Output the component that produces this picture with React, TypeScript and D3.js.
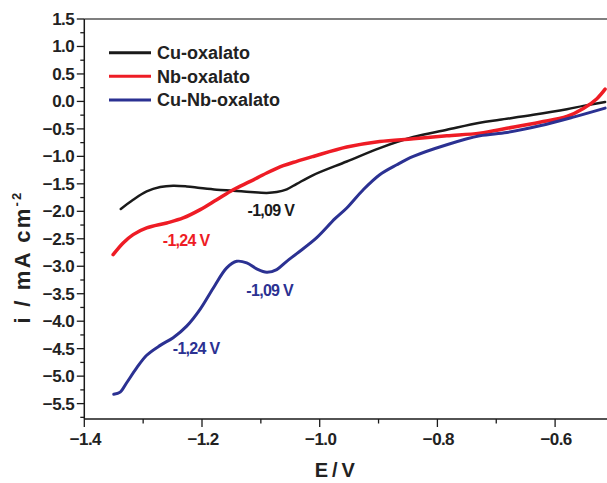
import React from "react";
import * as d3 from "d3";

const cuX = [-1.338, -1.317, -1.294, -1.271, -1.249, -1.226, -1.203, -1.175, -1.147, -1.118, -1.09, -1.073, -1.056, -1.039, -1.011, -0.954, -0.898, -0.841, -0.784, -0.728, -0.694, -0.637, -0.58, -0.552, -0.515];
const cuY = [-1.958, -1.789, -1.638, -1.558, -1.534, -1.547, -1.576, -1.607, -1.625, -1.649, -1.665, -1.65, -1.6, -1.5, -1.34, -1.093, -0.849, -0.649, -0.517, -0.39, -0.335, -0.244, -0.141, -0.081, -0.01];

const nbX = [-1.351, -1.334, -1.317, -1.294, -1.26, -1.232, -1.203, -1.175, -1.147, -1.118, -1.09, -1.062, -1.039, -1.011, -0.954, -0.898, -0.841, -0.784, -0.728, -0.682, -0.626, -0.58, -0.552, -0.529, -0.515];
const nbY = [-2.788, -2.575, -2.424, -2.303, -2.212, -2.121, -1.97, -1.789, -1.607, -1.456, -1.303, -1.17, -1.09, -1.002, -0.831, -0.729, -0.68, -0.626, -0.577, -0.49, -0.38, -0.275, -0.13, 0.05, 0.223];

const cunbX = [-1.35, -1.339, -1.328, -1.311, -1.294, -1.271, -1.249, -1.226, -1.203, -1.181, -1.158, -1.141, -1.124, -1.107, -1.09, -1.073, -1.056, -1.039, -1.005, -0.974, -0.954, -0.926, -0.898, -0.869, -0.841, -0.784, -0.728, -0.682, -0.626, -0.569, -0.515];
const cunbY = [-5.331, -5.29, -5.12, -4.85, -4.62, -4.44, -4.3, -4.09, -3.78, -3.40, -3.029, -2.91, -2.939, -3.048, -3.109, -3.06, -2.91, -2.77, -2.479, -2.134, -1.939, -1.607, -1.334, -1.153, -1.002, -0.789, -0.626, -0.566, -0.444, -0.286, -0.122];

const seriesNames = ["Cu-oxalato", "Nb-oxalato", "Cu-Nb-oxalato"];
const seriesColors = ["#1a1a1a", "#ee1c25", "#2b3192"];
const seriesWidths = [2.5, 3.5, 3];

const xTicks = [-1.4, -1.2, -1.0, -0.8, -0.6];
const xMinor = [-1.3, -1.1, -0.9, -0.7, -0.5];
const yTicks = [1.5, 1.0, 0.5, 0.0, -0.5, -1.0, -1.5, -2.0, -2.5, -3.0, -3.5, -4.0, -4.5, -5.0, -5.5];
const yMinor = [1.25, 0.75, 0.25, -0.25, -0.75, -1.25, -1.75, -2.25, -2.75, -3.25, -3.75, -4.25, -4.75, -5.25, -5.75];

const annotations = [
  { text: "-1,09 V", x: -1.083, y: -2.09, color: "#1a1a1a" },
  { text: "-1,24 V", x: -1.227, y: -2.635, color: "#ee1c25" },
  { text: "-1,09 V", x: -1.085, y: -3.545, color: "#2b3192" },
  { text: "-1,24 V", x: -1.21, y: -4.6, color: "#2b3192" },
];

const W = 607;
const H = 483;
const x = d3.scaleLinear().domain([-1.4, -0.5]).range([84.3, 84.3 + 0.9 * 588.5]);
const y = d3.scaleLinear().domain([-5.78, 1.5]).range([419, 19]);

const font = "'Liberation Sans', Arial, Helvetica, sans-serif";

export default function App() {
  const data = [
    d3.zip(cuX, cuY),
    d3.zip(nbX, nbY),
    d3.zip(cunbX, cunbY),
  ];
  const line = d3
    .line<number[]>()
    .x((d) => x(d[0]))
    .y((d) => y(d[1]))
    .curve(d3.curveCatmullRom.alpha(0.5));
  const fmt = d3.format(".1f");
  const [x0, x1] = x.range();
  const [yb, yt] = y.range();
  return (
    <svg
      width={W}
      height={H}
      style={{ position: "absolute", left: 0, top: 0, background: "#fff" }}
      fontFamily={font}
      fontWeight="bold"
    >
      <defs>
        <clipPath id="plot">
          <rect x={x0} y={yt - 5} width={x1 - x0} height={yb - yt + 5} />
        </clipPath>
      </defs>
      <line x1={x0} x2={x1} y1={yt} y2={yt} stroke="#555" strokeWidth={1.5} />
      <g clipPath="url(#plot)">
        {data.map((d, i) => (
          <path key={i} d={line(d) || ""} fill="none" stroke={seriesColors[i]} strokeWidth={seriesWidths[i]} strokeLinejoin="round" strokeLinecap="round" />
        ))}
      </g>
      <line x1={x0} x2={x0} y1={yt} y2={yb} stroke="#1a1a1a" strokeWidth={1.5} />
      <line x1={x0} x2={x1} y1={yb} y2={yb} stroke="#1a1a1a" strokeWidth={1.5} />
      {yTicks.map((t) => (
        <g key={"y" + t}>
          <line x1={x0 - 7.5} x2={x0} y1={y(t)} y2={y(t)} stroke="#1a1a1a" strokeWidth={1.3} />
          <text x={74} y={y(t) + 6} textAnchor="end" fontSize={17} letterSpacing={-0.6} fill="#222">
            {fmt(t)}
          </text>
        </g>
      ))}
      {yMinor.map((t) => (
        <line key={"ym" + t} x1={x0 - 4} x2={x0} y1={y(t)} y2={y(t)} stroke="#1a1a1a" strokeWidth={1.3} />
      ))}
      {xTicks.map((t) => (
        <g key={"x" + t}>
          <line x1={x(t)} x2={x(t)} y1={yb} y2={yb + 8} stroke="#1a1a1a" strokeWidth={1.3} />
          <text x={x(t) + 1} y={445} textAnchor="middle" fontSize={17} letterSpacing={-0.6} fill="#222">
            {fmt(t)}
          </text>
        </g>
      ))}
      {xMinor.map((t) => (
        <line key={"xm" + t} x1={x(t)} x2={x(t)} y1={yb} y2={yb + 4.5} stroke="#1a1a1a" strokeWidth={1.3} />
      ))}
      <text x={334.5} y={476.5} textAnchor="middle" fontSize={20} letterSpacing={-0.8} fill="#222">
        E / V
      </text>
      <text transform={`translate(30,257) rotate(-90)`} textAnchor="middle" fontSize={22} letterSpacing={2.2} fill="#222">
        i / mA cm<tspan dy={-9} fontSize={13}>-2</tspan>
      </text>
      {seriesNames.map((n, i) => (
        <g key={n}>
          <line x1={109} x2={151} y1={52.7 + i * 23.6} y2={52.7 + i * 23.6} stroke={seriesColors[i]} strokeWidth={3} />
          <text x={157} y={52.7 + i * 23.6 + 6.5} fontSize={18} fill="#222">
            {n}
          </text>
        </g>
      ))}
      {annotations.map((a, i) => (
        <text key={i} x={x(a.x)} y={y(a.y)} textAnchor="middle" fontSize={16} letterSpacing={-0.7} fill={a.color}>
          {a.text}
        </text>
      ))}
    </svg>
  );
}
